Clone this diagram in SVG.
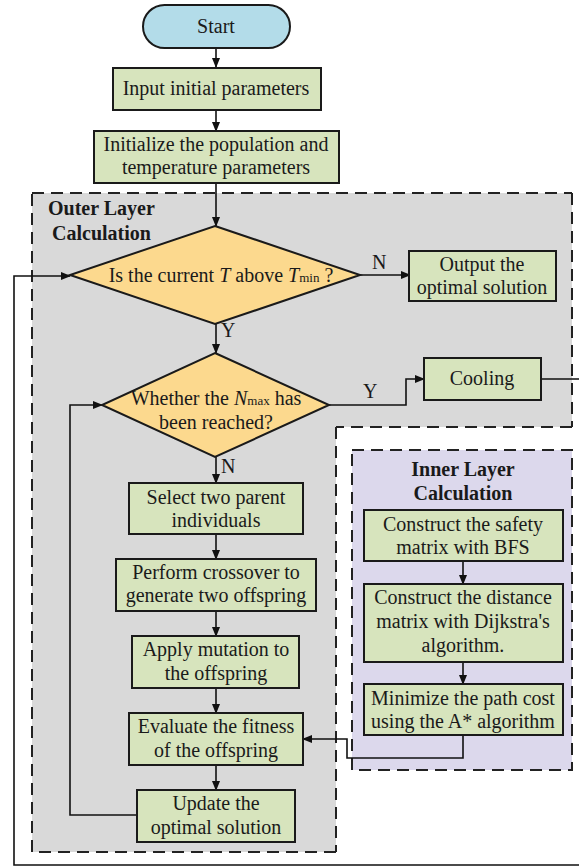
<svg xmlns="http://www.w3.org/2000/svg" width="579" height="867" viewBox="0 0 579 867">
<defs>
<marker id="ah" markerWidth="10" markerHeight="10" refX="9" refY="5" orient="auto" markerUnits="userSpaceOnUse">
<path d="M0,1 L10,5 L0,9 Z" fill="#111"/>
</marker>
<style>
text{font-family:"Liberation Serif","Times New Roman",serif;font-size:20px;fill:#1a1a1a;text-anchor:middle}
.b{font-weight:bold}
.box{fill:#d7e4bd;stroke:#1a1a1a;stroke-width:2}
.dia{fill:#fcd98e;stroke:#1a1a1a;stroke-width:2}
.ln{fill:none;stroke:#111;stroke-width:1.6}
.dash{stroke:#222;stroke-width:2;stroke-dasharray:12,7;fill:none}
.lbl{text-anchor:start}
.sub{font-size:13px}
</style>
</defs>
<rect width="579" height="867" fill="#fff"/>
<g id="outer-layer">
<path d="M32,193 H572 V427 H336 V852 H32 Z" fill="#d9d9d9"/>
<path d="M32,193 H572 M572,193 V427 M572,427 H336 M336,427 V852 M336,852 H32 M32,852 V193" class="dash"/>
<text class="b" x="48" y="215" style="text-anchor:start">Outer Layer</text>
<text class="b" x="52" y="240" style="text-anchor:start">Calculation</text>
</g>
<g id="inner-layer">
<rect x="352" y="450" width="220" height="320" fill="#dcd8ec"/>
<path d="M352,450 H572 V770 H352 Z" class="dash"/>
<text class="b" x="463" y="476">Inner Layer</text>
<text class="b" x="463" y="500">Calculation</text>
</g>
<g id="connectors">
<path class="ln" d="M216,48 V67" marker-end="url(#ah)"/>
<path class="ln" d="M216,110 V131" marker-end="url(#ah)"/>
<path class="ln" d="M216,183 V226" marker-end="url(#ah)"/>
<path class="ln" d="M360,275 H410" marker-end="url(#ah)"/>
<path class="ln" d="M216,324 V353" marker-end="url(#ah)"/>
<path class="ln" d="M329,405 H406 V379 H424" marker-end="url(#ah)"/>
<path class="ln" d="M541,379 H581 V865 H14 V276 H70" marker-end="url(#ah)"/>
<path class="ln" d="M216,457 V483" marker-end="url(#ah)"/>
<path class="ln" d="M216,534 V559" marker-end="url(#ah)"/>
<path class="ln" d="M216,611 V636" marker-end="url(#ah)"/>
<path class="ln" d="M216,688 V713" marker-end="url(#ah)"/>
<path class="ln" d="M216,765 V790" marker-end="url(#ah)"/>
<path class="ln" d="M137,815 H70 V405 H102" marker-end="url(#ah)"/>
<path class="ln" d="M463,561 V584" marker-end="url(#ah)"/>
<path class="ln" d="M463,662 V684" marker-end="url(#ah)"/>
<path class="ln" d="M463,735 V758 H347 V739 H303" marker-end="url(#ah)"/>
<text class="lbl" x="372" y="269">N</text>
<text class="lbl" x="221" y="337">Y</text>
<text class="lbl" x="363" y="398">Y</text>
<text class="lbl" x="221" y="473">N</text>
</g>
<g id="start">
<rect x="143" y="5" width="147" height="43" rx="21.5" fill="#b3dce9" stroke="#1a1a1a" stroke-width="2"/>
<text x="216" y="33">Start</text>
</g>
<g id="input">
<rect class="box" x="113" y="68" width="208" height="42"/>
<text x="216" y="95">Input initial parameters</text>
</g>
<g id="init">
<rect class="box" x="94" y="131" width="245" height="52"/>
<text x="216" y="151">Initialize the population and</text>
<text x="216" y="174">temperature parameters</text>
</g>
<g id="dec-temp">
<polygon class="dia" points="215,226 360,275 215,324 70,275"/>
<text x="221" y="282">Is the current <tspan font-style="italic">T</tspan> above <tspan font-style="italic">T</tspan><tspan class="sub">min</tspan> ?</text>
</g>
<g id="output">
<rect class="box" x="409" y="251" width="147" height="50"/>
<text x="482" y="271">Output the</text>
<text x="482" y="294">optimal solution</text>
</g>
<g id="dec-nmax">
<polygon class="dia" points="215,353 329,405 215,457 102,405"/>
<text x="216" y="405">Whether the <tspan font-style="italic">N</tspan><tspan class="sub">max</tspan> has</text>
<text x="216" y="429">been reached?</text>
</g>
<g id="cooling">
<rect class="box" x="424" y="358" width="117" height="42"/>
<text x="482" y="385">Cooling</text>
</g>
<g id="select">
<rect class="box" x="129" y="483" width="174" height="51"/>
<text x="216" y="504">Select two parent</text>
<text x="216" y="527">individuals</text>
</g>
<g id="crossover">
<rect class="box" x="116" y="559" width="200" height="52"/>
<text x="216" y="579">Perform crossover to</text>
<text x="216" y="602">generate two offspring</text>
</g>
<g id="mutation">
<rect class="box" x="132" y="636" width="167" height="52"/>
<text x="216" y="656">Apply mutation to</text>
<text x="216" y="680">the offspring</text>
</g>
<g id="evaluate">
<rect class="box" x="129" y="713" width="174" height="52"/>
<text x="216" y="733">Evaluate the fitness</text>
<text x="216" y="757">of the offspring</text>
</g>
<g id="update">
<rect class="box" x="137" y="790" width="158" height="52"/>
<text x="216" y="810">Update the</text>
<text x="216" y="834">optimal solution</text>
</g>
<g id="safety">
<rect class="box" x="364" y="510" width="199" height="51"/>
<text x="463" y="531">Construct the safety</text>
<text x="463" y="554">matrix with BFS</text>
</g>
<g id="distance">
<rect class="box" x="364" y="584" width="199" height="78"/>
<text x="463" y="604">Construct the distance</text>
<text x="463" y="628">matrix with Dijkstra's</text>
<text x="463" y="652">algorithm.</text>
</g>
<g id="minimize">
<rect class="box" x="364" y="684" width="199" height="51"/>
<text x="463" y="705">Minimize the path cost</text>
<text x="463" y="728">using the A* algorithm</text>
</g>
</svg>
